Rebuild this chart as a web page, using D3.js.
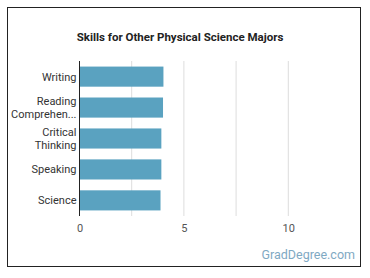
<!DOCTYPE html>
<html>
<head>
<meta charset="utf-8">
<script src="https://cdn.jsdelivr.net/npm/d3@7/dist/d3.min.js"></script>
<style>
body { margin: 0; background: #fff; }
text { font-family: Roboto, "Noto Sans", sans-serif; }
</style>
</head>
<body>
<div id="chart"></div>
<script>
// skills and their scores
var skills = ["Writing", "Reading Comprehen...", "Critical Thinking", "Speaking", "Science"];
var scores = [4.02, 4.0, 3.92, 3.92, 3.88];
var tickValues = [0, 5, 10];
var gridValues = [2.5, 5, 7.5, 10];

var width = 370, height = 278;
var svg = d3.select("#chart").append("svg")
	.attr("width", width)
	.attr("height", height);

// frame
svg.append("rect")
	.attr("x", 7.5).attr("y", 7.5)
	.attr("width", 353).attr("height", 259)
	.attr("fill", "#fff")
	.attr("stroke", "#222")
	.attr("stroke-width", 1);

svg.append("text")
	.attr("x", 180).attr("y", 41)
	.attr("text-anchor", "middle")
	.attr("font-size", 11.5)
	.attr("font-weight", "bold")
	.attr("fill", "#222")
	.text("Skills for Other Physical Science Majors");

var x = d3.scaleLinear().domain([0, 12.5]).range([79.5, 340.5]);
var y = d3.scaleBand().domain(skills).range([61, 216]).paddingInner(0.35).paddingOuter(0.18);

// gridlines
svg.selectAll("line.grid").data(gridValues).enter()
	.append("line")
	.attr("class", "grid")
	.attr("x1", function(d){ return x(d); })
	.attr("x2", function(d){ return x(d); })
	.attr("y1", 61).attr("y2", 216)
	.attr("stroke", "#ddd")
	.attr("stroke-width", 1);

svg.selectAll("rect.bar").data(scores).enter()
	.append("rect")
	.attr("class", "bar")
	.attr("x", x(0))
	.attr("y", function(d, i){ return y(skills[i]); })
	.attr("width", function(d){ return x(d) - x(0); })
	.attr("height", y.bandwidth())
	.attr("fill", "#5aa2c0");

// x axis tick labels
var xAxis = d3.axisBottom(x).tickValues(tickValues).tickSize(0).tickPadding(8).tickFormat(d3.format("d"));
var gx = svg.append("g").attr("transform", "translate(0,216)").call(xAxis);
gx.select(".domain").remove();
gx.selectAll("text").attr("font-size", 11).attr("fill", "#555").attr("font-family", "Roboto, sans-serif");

// y axis line
svg.append("line")
	.attr("x1", x(0)).attr("x2", x(0))
	.attr("y1", 61).attr("y2", 216)
	.attr("stroke", "#222")
	.attr("stroke-width", 1);

// category labels, wrapped
var lines = {
	"Writing": ["Writing"],
	"Reading Comprehen...": ["Reading", "Comprehen..."],
	"Critical Thinking": ["Critical", "Thinking"],
	"Speaking": ["Speaking"],
	"Science": ["Science"]
};
skills.forEach(function(s){
	var ls = lines[s];
	var cy = y(s) + y.bandwidth() / 2;
	var t = svg.append("text")
		.attr("x", x(0) - 3)
		.attr("text-anchor", "end")
		.attr("font-size", 11)
		.attr("fill", "#333");
	ls.forEach(function(l, j){
		t.append("tspan")
			.attr("x", x(0) - 3)
			.attr("y", cy + 4 + (j - (ls.length - 1) / 2) * 13)
			.text(l);
	});
});

svg.append("text")
	.attr("x", 355).attr("y", 259)
	.attr("text-anchor", "end")
	.attr("font-size", 12.5)
	.attr("fill", "#7fa9c3")
	.text("GradDegree.com");
</script>
</body>
</html>
